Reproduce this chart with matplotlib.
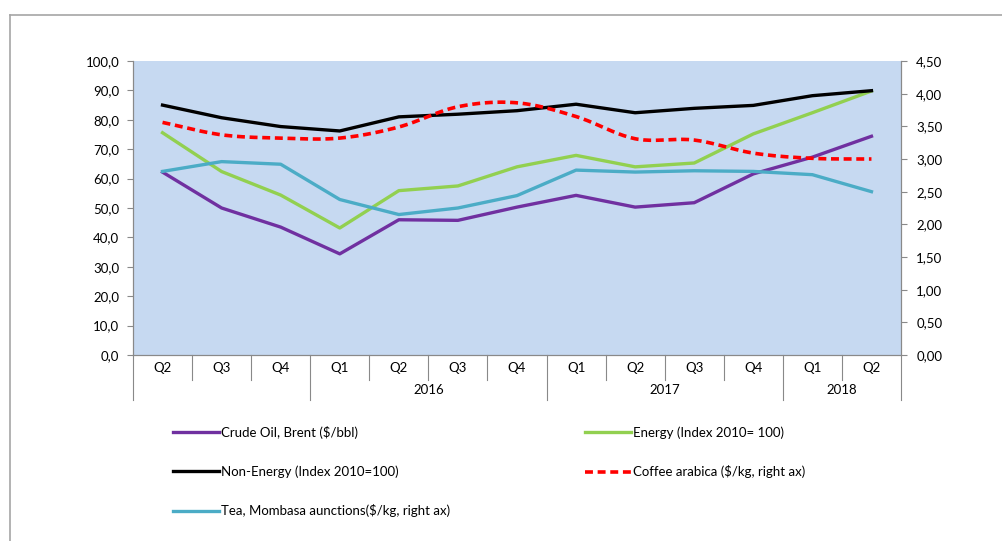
import matplotlib.pyplot as plt
from matplotlib.lines import Line2D
import numpy as np

plt.rcParams['font.family'] = ['Lato', 'DejaVu Sans']

quarters = ['Q2', 'Q3', 'Q4', 'Q1', 'Q2', 'Q3', 'Q4', 'Q1', 'Q2', 'Q3', 'Q4', 'Q1', 'Q2']
years = [('2016', 3, 6), ('2017', 7, 10), ('2018', 11, 12)]

crude_oil = [62.2, 50.0, 43.5, 34.4, 46.0, 45.8, 50.3, 54.3, 50.3, 51.8, 61.6, 67.3, 74.4]
energy = [75.6, 62.4, 54.4, 43.2, 55.9, 57.5, 64.0, 67.9, 64.0, 65.3, 75.2, 82.4, 89.8]
non_energy = [85.0, 80.7, 77.7, 76.2, 81.0, 81.9, 83.1, 85.3, 82.4, 83.9, 84.9, 88.2, 89.9]
coffee = [3.56, 3.37, 3.32, 3.32, 3.49, 3.80, 3.86, 3.65, 3.31, 3.29, 3.09, 3.01, 3.00]
tea = [2.81, 2.96, 2.92, 2.38, 2.15, 2.25, 2.44, 2.83, 2.80, 2.82, 2.81, 2.76, 2.50]

labels = ['Crude Oil, Brent ($/bbl)', 'Energy (Index 2010= 100)',
          'Non-Energy (Index 2010=100)', 'Coffee arabica ($/kg, right ax)',
          'Tea, Mombasa aunctions($/kg, right ax)']

c_purple = '#7030A0'
c_green = '#92D050'
c_black = '#000000'
c_red = '#FF0000'
c_teal = '#4BACC6'
grey = '#898989'


def smooth(xs, ys, n=20):
    # catmull-rom, like excel's smoothed line
    xs = np.asarray(xs, float)
    ys = np.asarray(ys, float)
    px = np.concatenate([[2 * xs[0] - xs[1]], xs, [2 * xs[-1] - xs[-2]]])
    py = np.concatenate([[2 * ys[0] - ys[1]], ys, [2 * ys[-1] - ys[-2]]])
    ox, oy = [], []
    t = np.linspace(0, 1, n, endpoint=False)
    for i in range(1, len(px) - 2):
        for p, o in ((px, ox), (py, oy)):
            p0, p1, p2, p3 = p[i - 1], p[i], p[i + 1], p[i + 2]
            o.extend(0.5 * (2 * p1 + (-p0 + p2) * t + (2 * p0 - 5 * p1 + 4 * p2 - p3) * t ** 2
                            + (-p0 + 3 * p1 - 3 * p2 + p3) * t ** 3))
    ox.append(xs[-1])
    oy.append(ys[-1])
    return np.array(ox), np.array(oy)


W, H = 1003, 541
fig = plt.figure(figsize=(W / 100, H / 100), dpi=100)
ax = fig.add_axes([133 / W, 1 - 355 / H, (901 - 133) / W, (355 - 61) / H])
ax.set_facecolor('#C6D9F1')
ax2 = ax.twinx()

x = np.arange(len(quarters))
lw = 2.4
ax.plot(x, crude_oil, color=c_purple, lw=lw, solid_joinstyle='round')
ax.plot(x, energy, color=c_green, lw=lw, solid_joinstyle='round')
ax.plot(x, non_energy, color=c_black, lw=lw, solid_joinstyle='round')
sx, sy = smooth(x, coffee)
ax2.plot(sx, sy, color=c_red, lw=2.6, dashes=(2.2, 1.3))
ax2.plot(x, tea, color=c_teal, lw=lw, solid_joinstyle='round')

ax.set_xlim(-0.5, len(quarters) - 0.5)
ax.set_ylim(0, 100)
ax2.set_ylim(0, 4.5)
ax.set_yticks(np.arange(0, 101, 10))
ax.set_yticklabels([f'{v:.1f}'.replace('.', ',') for v in np.arange(0, 101, 10)])
ax2.set_yticks(np.arange(0, 4.51, 0.5))
ax2.set_yticklabels([f'{v:.2f}'.replace('.', ',') for v in np.arange(0, 4.51, 0.5)])
ax.set_xticks([])

for a in (ax, ax2):
    a.spines['top'].set_visible(False)
    for s in ('left', 'right', 'bottom'):
        a.spines[s].set_color(grey)
    a.tick_params(axis='y', colors=grey, labelcolor='black', labelsize=9.5, length=4, width=0.8)
ax.tick_params(axis='y', pad=6)
ax2.tick_params(axis='y', pad=7)

# category axis: quarters, years and separators
tr = ax.get_xaxis_transform()
for i, q in enumerate(quarters):
    ax.text(i, -0.044, q, transform=tr, ha='center', va='center', fontsize=9.5)
for name, a, b in years:
    ax.text((a + b) / 2, -0.119, name, transform=tr, ha='center', va='center', fontsize=9.5)
long_edges = {-0.5, 12.5} | {a - 0.5 for _, a, _ in years}
for e in np.arange(-0.5, len(quarters), 1.0):
    low = -0.153 if e in long_edges else -0.085
    ax.plot([e, e], [0, low], transform=tr, color=grey, lw=0.8, clip_on=False)

# legend
h = [Line2D([], [], color=c_purple, lw=lw),
     Line2D([], [], color=c_black, lw=lw),
     Line2D([], [], color=c_teal, lw=lw),
     Line2D([], [], color=c_green, lw=lw),
     Line2D([], [], color=c_red, lw=2.6, dashes=(2.2, 1.3))]
lab = [labels[0], labels[2], labels[4], labels[1], labels[3]]
fig.legend(h, lab, loc='upper left', bbox_to_anchor=(173 / W, 1 - 426 / H), ncol=2,
           frameon=False, fontsize=9.5, handlelength=3.5, handletextpad=0.15,
           labelspacing=2.0, columnspacing=10.2, borderpad=0, borderaxespad=0)

# chart frame
fig.add_artist(Line2D([10 / W, 10 / W], [0, 1 - 15 / H], color='#A6A6A6', lw=1.2))
fig.add_artist(Line2D([10 / W, 1], [1 - 15 / H, 1 - 15 / H], color='#A6A6A6', lw=1.2))

fig.savefig('out.png', dpi=100)
